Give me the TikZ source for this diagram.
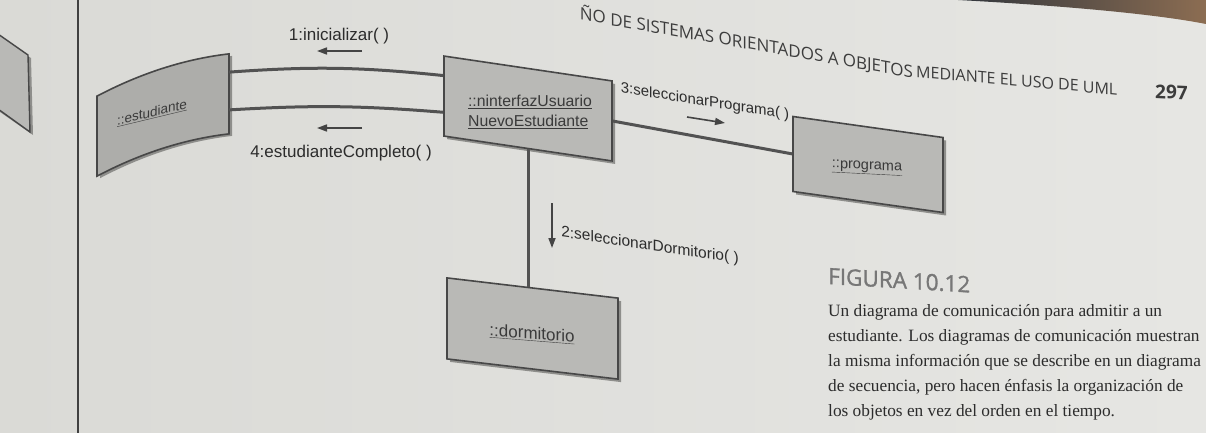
\documentclass[tikz,border=0pt]{standalone}
\usepackage{fontspec}
\setmainfont{Liberation Serif}
\newfontfamily\diagfont{Liberation Sans}
\newfontfamily\headfont{Open Sans}
\newfontfamily\figfont[FakeBold=1.3]{Open Sans}
\usetikzlibrary{arrows.meta,calc,shadows}

\definecolor{paperA}{HTML}{DADAD6}
\definecolor{paperB}{HTML}{E6E6E3}
\definecolor{boxfill}{HTML}{B9B9B6}
\definecolor{estfill}{HTML}{ADADAA}
\definecolor{boxedge}{HTML}{474747}
\definecolor{shadowc}{HTML}{8E8E8B}
\definecolor{linkc}{HTML}{525252}
\definecolor{arrowc}{HTML}{444444}
\definecolor{ink}{HTML}{2C2C2C}
\definecolor{labelink}{HTML}{3A3A3A}
\definecolor{headink}{HTML}{3C3C3C}
\definecolor{figgray}{HTML}{777777}
\definecolor{deskdark}{HTML}{30363D}
\definecolor{deskbrown}{HTML}{8C6D52}

\begin{document}
\begin{tikzpicture}[x=1pt,y=-1pt,
  objbox/.style={draw=boxedge, line width=1.6pt, fill=boxfill, inner sep=0pt, transform shape,
    drop shadow={shadow xshift=3pt, shadow yshift=-3pt, fill=shadowc, opacity=1}},
  frame/.style={inner sep=0pt, transform shape},
  objlabel/.style={text=labelink, inner sep=1pt, transform shape},
  msglabel/.style={font=\diagfont\fontsize{17}{20}\selectfont, text=ink, inner sep=1pt, transform shape},
  headtext/.style={text=headink, inner sep=0pt, transform shape},
  assoc/.style={draw=linkc, line width=3pt},
  msgarrow/.style={draw=arrowc, line width=1.6pt, -{Triangle[length=10pt,width=7pt]}},
  pagerule/.style={draw=black!75, line width=1.3pt},
  captionline/.style={anchor=base west, inner sep=0pt, text=ink, font=\fontsize{17.3}{20}\selectfont},
]
\useasboundingbox (0,0) rectangle (1206,433);

% page and desk
\shade[left color=paperA, right color=paperB] (0,0) rectangle (1206,433);
\shade[left color=deskdark, right color=deskbrown]
  (958,0) .. controls (1050,5) and (1150,13) .. (1206,24) -- (1206,0) -- cycle;
\draw[pagerule] (78,0) -- (78,433);

% piece of a box on the facing page
\fill[shadowc] (0,38) -- (31,58) -- (33,135) -- (0,112) -- cycle;
\filldraw[fill=boxfill, draw=boxedge, line width=1.4pt] (-2,34) -- (28,55) -- (30,132) -- (-2,109) -- cycle;

% running head
\begin{scope}[shift={(913,78)}, yslant=-0.175]
  \node[headtext, anchor=base east, font=\headfont\fontsize{17}{20}\selectfont] (headA) at (0,0)
    {ÑO DE SISTEMAS ORIENTADOS A OBJETOS};
\end{scope}
\begin{scope}[shift={(916,77)}, yslant=-0.09]
  \node[headtext, anchor=base west, font=\headfont\fontsize{16}{20}\selectfont] (headB) at (0,0)
    {MEDIANTE EL USO DE UML};
\end{scope}
\begin{scope}[shift={(1155,98)}, yslant=-0.05]
  \node[headtext, anchor=base west, font=\headfont\bfseries\fontsize{19}{22}\selectfont] (pageno) at (0,0) {297};
\end{scope}

% objects
\begin{scope}[shift={(163,115)}, yslant=0.32]
  \node[frame, minimum width=132pt, minimum height=80pt] (est) at (0,0) {};
  \fill[shadowc] (-63,-37) .. controls (-19,-46) and (25,-46) .. (69,-37)
    -- (69,43) .. controls (25,34) and (-19,34) .. (-63,43) -- cycle;
  \filldraw[fill=estfill, draw=boxedge, line width=1.6pt]
    (-66,-40) .. controls (-22,-49) and (22,-49) .. (66,-40)
    -- (66,40) .. controls (22,31) and (-22,31) .. (-66,40) -- cycle;
\end{scope}

\begin{scope}[shift={(528,108.5)}, yslant=-0.148]
  \node[objbox, minimum width=168pt, minimum height=80pt] (iface) at (0,0) {};
\end{scope}

\begin{scope}[shift={(868,164.5)}, yslant=-0.14]
  \node[objbox, minimum width=150pt, minimum height=75pt] (prog) at (0,0) {};
\end{scope}

\begin{scope}[shift={(532.5,328.5)}, yslant=-0.118]
  \node[objbox, minimum width=171pt, minimum height=81pt] (dorm) at (0,0) {};
\end{scope}

% object names
\begin{scope}[shift={(152,113)}, yslant=0.24]
  \node[objlabel, font=\diagfont\fontsize{13.5}{16}\selectfont] (estname) at (0,0) {\underline{::estudiante}};
\end{scope}
\node[objlabel, font=\diagfont\fontsize{15.8}{20}\selectfont, align=left] (ifacename) at (530,112)
  {\underline{::ninterfazUsuario}\\\underline{NuevoEstudiante}};
\begin{scope}[shift={(867,168)}, yslant=-0.05]
  \node[objlabel, font=\diagfont\fontsize{14.5}{17}\selectfont] (progname) at (0,0) {\underline{::programa}};
\end{scope}
\begin{scope}[shift={(532,334)}, yslant=-0.08]
  \node[objlabel, font=\diagfont\fontsize{17}{20}\selectfont] (dormname) at (0,0) {\underline{::dormitorio}};
\end{scope}

% links
\draw[assoc] ($(est.north east)!0.23!(est.south east)$) to[bend left=5]
  ($(iface.north west)!0.25!(iface.south west)$);
\draw[assoc] ($(est.north east)!0.70!(est.south east)$) to[bend left=4]
  ($(iface.north west)!0.70!(iface.south west)$);
\draw[assoc] (iface.east) -- (prog.west);
\draw[assoc] (iface.south) -- (iface.south |- dorm.north);

% messages
\coordinate (m1tail) at (362,51);  \coordinate (m1head) at (317,51);
\coordinate (m4tail) at (362,128); \coordinate (m4head) at (317,128);
\coordinate (m3tail) at (687,117); \coordinate (m3head) at (725,123);
\coordinate (m2tail) at (552,203); \coordinate (m2head) at (552,248);
\draw[msgarrow] (m1tail) -- (m1head);
\draw[msgarrow] (m4tail) -- (m4head);
\draw[msgarrow] (m3tail) -- (m3head);
\draw[msgarrow] (m2tail) -- (m2head);

\node[msglabel] (msg1) at (339,36) {1:inicializar( )};
\node[msglabel] (msg4) at (341,153) {4:estudianteCompleto( )};
\begin{scope}[shift={(705,102)}, yslant=-0.158]
  \node[msglabel, font=\diagfont\fontsize{15}{18}\selectfont] (msg3) at (0,0) {3:seleccionarPrograma( )};
\end{scope}
\begin{scope}[shift={(650,246)}, yslant=-0.148]
  \node[msglabel, font=\diagfont\fontsize{15.5}{18}\selectfont] (msg2) at (0,0) {2:seleccionarDormitorio( )};
\end{scope}

% figure caption
\begin{scope}[shift={(828,284)}, yslant=-0.06]
  \node[anchor=base west, inner sep=0pt, transform shape, font=\figfont\fontsize{22.5}{26}\selectfont, text=figgray]
    (figtitle) at (0,0) {FIGURA 10.12};
\end{scope}
\node[captionline] (cap1) at (828,316) {Un diagrama de comunicación para admitir a un};
\node[captionline] (cap2) at (828,341) {estudiante. Los diagramas de comunicación muestran};
\node[captionline] (cap3) at (828,366) {la misma información que se describe en un diagrama};
\node[captionline] (cap4) at (828,391) {de secuencia, pero hacen énfasis la organización de};
\node[captionline] (cap5) at (828,416) {los objetos en vez del orden en el tiempo.};
\end{tikzpicture}
\end{document}
